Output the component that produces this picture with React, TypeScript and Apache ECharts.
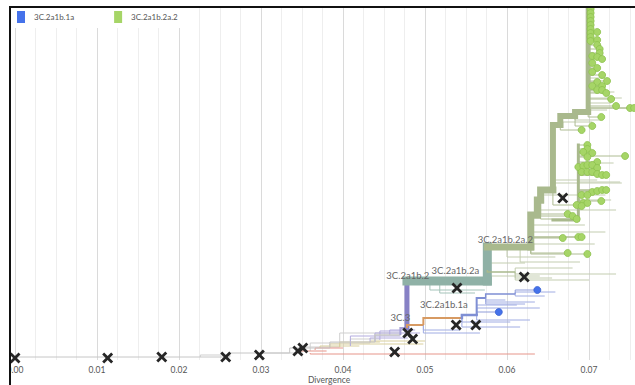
import React, { useEffect, useRef } from 'react';
import * as echarts from 'echarts';

// Divergence axis: ticks every 0.01 from 0
const DIVERGENCE_STEP = 0.01;
const DIVERGENCE_MAX = 0.08;
const LAST_LABELLED = 0.07;
const LAYOUT_MAX = 353;

const LEGEND_CLADES = ['3C.2a1b.1a', '3C.2a1b.2a.2'];

// Internal branches: [parentDivergence, parentY, divergence, y, descendants, clade]
const BRANCHES: any[] = [
  [0, 3, 0.0262, 3, 0, 'base'],
  [0.0262, 3, 0.0335, 7, 0, 'base'],
  [0.0335, 7, 0.0384, 12, 0, 'base'],
  [0.0384, 12, 0.0439, 18, 0, 'base'],
  [0.0439, 18, 0.047, 25, 0.25, 'base'],
  [0.047, 25, 0.0478, 32, 1, 'c3'],
  [0.0478, 32, 0.0478, 79, 16, 'b2'],
  [0.0478, 79, 0.0576, 79, 64, 'b2a'],
  [0.0576, 79, 0.0576, 113, 64, 'b2a'],
  [0.0576, 113, 0.0629, 113, 36, 'b2a2'],
  [0.0629, 113, 0.0637, 145, 36, 'b2a2'],
  [0.0637, 145, 0.0641, 160, 36, 'b2a2'],
  [0.0641, 160, 0.0656, 170, 36, 'b2a2'],
  [0.0656, 170, 0.0665, 235, 25, 'b2a2'],
  [0.0665, 235, 0.0683, 244, 25, 'b2a2'],
  [0.0683, 244, 0.0699, 248, 25, 'b2a2'],
  [0.0699, 248, 0.0699, 360, 16, 'b2a2'],
  [0.0656, 140, 0.0687, 140, 4, 'b2a2'],
  [0.0687, 140, 0.0687, 215, 4, 'b2a2'],
  [0.0576, 90, 0.061, 88, 0.25, 'b2a2'],
  [0.0478, 32, 0.0498, 35, 1, 'orange'],
  [0.0498, 35, 0.0545, 42, 1, 'orange'],
  [0.0545, 42, 0.0563, 45, 2.25, 'b1a'],
  [0.0563, 45, 0.0574, 62, 1, 'b1a'],
  [0.0574, 62, 0.061, 66, 0.25, 'b1a'],
];

// Side branches without highlighted tips: [parentDivergence, parentY, divergence, y, group]
const SIDE_BRANCHES: any[] = [
  [0.0226, 3, 0.0262, 5, 'gray'],
  [0.0299, 5, 0.0348, 7, 'gray'],
  [0.0348, 8, 0.0396, 13, 'gray'],
  [0.036, 9, 0.0433, 17, 'gray'],
  [0.0396, 13, 0.047, 27, 'gray'],
  [0.0409, 14, 0.0445, 21, 'gray'],
  [0.0372, 12, 0.042, 14, 'tan'],
  [0.0384, 12, 0.0498, 16, 'tan'],
  [0.0396, 13, 0.0445, 18, 'tan'],
  [0.0433, 17, 0.05, 19, 'tan'],
  [0.036, 7, 0.0634, 6, 'red'],
  [0.0366, 10, 0.04, 12, 'red'],
  [0.0348, 7, 0.038, 9, 'red'],
  [0.0409, 14, 0.047, 24, 'lav'],
  [0.0433, 18, 0.0479, 22, 'lav'],
  [0.0439, 18, 0.0494, 27, 'lav'],
  [0.0457, 25, 0.0488, 30, 'lav'],
  [0.0445, 20, 0.047, 29, 'lav'],
  [0.0498, 35, 0.0543, 30, 'blue'],
  [0.0498, 35, 0.0567, 27, 'blue'],
  [0.0545, 42, 0.0604, 38, 'blue'],
  [0.0545, 42, 0.0616, 33, 'blue'],
  [0.0563, 45, 0.0628, 40, 'blue'],
  [0.0563, 45, 0.064, 52, 'blue'],
  [0.0563, 45, 0.0612, 55, 'blue'],
  [0.0574, 62, 0.0634, 58, 'blue'],
  [0.0574, 62, 0.0622, 56, 'blue'],
  [0.0574, 62, 0.0598, 60, 'blue'],
  [0.061, 66, 0.0659, 68, 'blue'],
  [0.061, 66, 0.0646, 64, 'blue'],
  [0.0506, 79, 0.0573, 70, 'teal'],
  [0.0518, 79, 0.0561, 67, 'teal'],
  [0.0576, 85, 0.064, 84, 'olive'],
  [0.0576, 95, 0.0622, 97, 'olive'],
  [0.061, 88, 0.068, 92, 'olive'],
  [0.061, 88, 0.0733, 86, 'olive'],
  [0.061, 88, 0.0655, 82, 'olive'],
  [0.061, 88, 0.07, 80, 'olive'],
  [0.06, 113, 0.0659, 103, 'olive'],
  [0.0616, 113, 0.0689, 98, 'olive'],
  [0.0629, 118, 0.0707, 116, 'olive'],
  [0.0629, 128, 0.072, 128, 'olive'],
  [0.0629, 135, 0.0695, 135, 'olive'],
  [0.0637, 148, 0.0733, 150, 'olive'],
  [0.0641, 162, 0.072, 165, 'olive'],
  [0.0656, 175, 0.074, 177, 'olive'],
  [0.0656, 182, 0.071, 180, 'olive'],
  [0.0687, 178, 0.0738, 178, 'olive'],
  [0.0687, 200, 0.073, 197, 'olive'],
  [0.0687, 160, 0.0727, 160, 'olive'],
  [0.0665, 238, 0.0704, 238, 'olive'],
  [0.0683, 244, 0.0713, 240, 'olive'],
  [0.0699, 250, 0.0722, 250, 'olive'],
  [0.0699, 258, 0.0727, 257, 'olive'],
  [0.0699, 262, 0.074, 262, 'olive'],
  [0.0699, 270, 0.0731, 268, 'olive'],
  [0.0699, 280, 0.072, 282, 'olive'],
];

// Tips: [divergence, y, parentDivergence, parentY]
const TIPS_1A: number[][] = [
  [0.0637, 70, 0.061, 66],
  [0.059, 48, 0.0563, 45],
];

const TIPS_2A2: number[][] = [
  [0.0702, 351, 0.0699, 351], [0.0702, 347, 0.0699, 347], [0.0702, 343, 0.0699, 343],
  [0.0702, 339, 0.0699, 339], [0.0702, 335, 0.0699, 335], [0.0702, 331, 0.0699, 331],
  [0.0702, 327, 0.0699, 327], [0.0702, 323, 0.0699, 323], [0.0702, 319, 0.0699, 319],
  [0.071, 328, 0.0699, 328], [0.071, 320, 0.0699, 320], [0.071, 315, 0.0699, 315],
  [0.0713, 311, 0.0699, 311], [0.0713, 307, 0.0699, 307], [0.0704, 304, 0.0699, 304],
  [0.071, 303, 0.0699, 303], [0.0716, 301, 0.0699, 301], [0.0704, 297, 0.0699, 297],
  [0.071, 292, 0.0699, 292], [0.0704, 288, 0.0699, 288], [0.0716, 285, 0.0699, 285],
  [0.0722, 279, 0.0699, 279], [0.071, 278, 0.0699, 278], [0.0716, 274, 0.0699, 274],
  [0.0704, 274, 0.0699, 274], [0.071, 270, 0.0699, 270], [0.0716, 270, 0.0699, 270],
  [0.0721, 267, 0.0699, 267], [0.0727, 261, 0.0699, 261], [0.0733, 254, 0.0699, 254],
  [0.075, 252, 0.0699, 252], [0.0755, 252, 0.0699, 252], [0.0715, 243, 0.0699, 248],
  [0.0704, 234, 0.0683, 244], [0.0691, 230, 0.0665, 235],
  [0.0698, 215, 0.0687, 215], [0.0698, 211, 0.0687, 211], [0.0693, 208, 0.0687, 208],
  [0.0704, 207, 0.0687, 207], [0.0744, 204, 0.0687, 204], [0.0698, 203, 0.0687, 203],
  [0.071, 198, 0.0687, 198], [0.0687, 193, 0.0687, 193], [0.0693, 194, 0.0687, 194],
  [0.0698, 195, 0.0687, 195], [0.0704, 195, 0.0687, 195], [0.071, 192, 0.0687, 192],
  [0.0691, 188, 0.0687, 188], [0.0698, 188, 0.0687, 188], [0.0704, 188, 0.0687, 188],
  [0.071, 186, 0.0687, 186], [0.0716, 185, 0.0687, 185], [0.0721, 185, 0.0687, 185],
  [0.0704, 168, 0.0687, 168], [0.071, 169, 0.0687, 169], [0.0716, 170, 0.0687, 170],
  [0.0721, 170, 0.0687, 170], [0.0691, 165, 0.0687, 165], [0.0698, 165, 0.0687, 165],
  [0.0693, 157, 0.0687, 157], [0.0698, 157, 0.0687, 157], [0.0715, 159, 0.0687, 159],
  [0.0685, 155, 0.0656, 170], [0.0691, 154, 0.0687, 154],
  [0.0674, 146, 0.0641, 160], [0.068, 144, 0.0641, 160], [0.0685, 141, 0.0641, 160],
  [0.0668, 122, 0.0629, 122], [0.0687, 123, 0.0629, 123], [0.0691, 123, 0.0629, 123],
  [0.0674, 107, 0.0629, 113], [0.0698, 106, 0.0629, 113],
];

// Vaccine strains: [divergence, y]
const VACCINES: number[][] = [
  [0, 2], [0.0113, 2], [0.0179, 3], [0.0257, 3], [0.0298, 5], [0.0345, 9], [0.0351, 12],
  [0.0463, 8], [0.0479, 27], [0.0485, 21], [0.0539, 72], [0.0538, 35], [0.0562, 35],
  [0.0621, 83], [0.0668, 162],
];

const CLADE_LABEL_TEXT = ['3C.3', '3C.2a1b.2', '3C.2a1b.2a', '3C.2a1b.1a', '3C.2a1b.2a.2'];
const CLADE_LABEL_POS: number[][] = [
  [0.047, 43], [0.0479, 84.5], [0.0537, 90], [0.0523, 56], [0.0598, 121],
];

const BRANCH_COLORS: Record<string, string> = {
  base: '#c6c6c6',
  c3: '#a59fd4',
  b2: '#8781c5',
  b2a: '#8fb1a6',
  b2a2: '#a9b98d',
  b1a: '#7f8fd4',
  orange: '#d79a62',
};
const SIDE_COLORS: Record<string, string> = {
  gray: '#cfcfcf',
  tan: '#d9cf9c',
  red: '#e6958a',
  lav: '#b3acdf',
  blue: '#a0ace3',
  teal: '#a4c3b9',
  olive: '#c3cdb0',
};

const FONT = 'Lato, "Open Sans", sans-serif';

function elbow(api: any, x0: number, y0: number, x1: number, y1: number) {
  const pts = [api.coord([x0, y0]), api.coord([x0, y1]), api.coord([x1, y1])];
  const out = [pts[0]];
  for (let i = 1; i < pts.length; i++) {
    const p = pts[i];
    const q = out[out.length - 1];
    if (Math.abs(p[0] - q[0]) > 0.01 || Math.abs(p[1] - q[1]) > 0.01) out.push(p);
  }
  if (out.length === 1) out.push([pts[0][0] + 0.01, pts[0][1]]);
  return out;
}

function buildOption() {
  const sideSeries = {
    type: 'custom',
    clip: true,
    silent: true,
    encode: { x: [0, 2], y: [1, 3] },
    data: SIDE_BRANCHES.map((r) => r.slice(0, 4)),
    renderItem: (params: any, api: any) => {
      const r = SIDE_BRANCHES[params.dataIndex];
      return {
        type: 'polyline',
        shape: { points: elbow(api, r[0], r[1], r[2], r[3]) },
        style: { stroke: SIDE_COLORS[r[4]], lineWidth: 1, fill: null },
      };
    },
  };

  const tipLines = (rows: number[][], color: string) => ({
    type: 'custom',
    clip: true,
    silent: true,
    encode: { x: [0, 2], y: [1, 3] },
    data: rows,
    renderItem: (params: any, api: any) => {
      const r = rows[params.dataIndex];
      return {
        type: 'polyline',
        shape: { points: elbow(api, r[2], r[3], r[0], r[1]) },
        style: { stroke: color, lineWidth: 1, fill: null },
      };
    },
  });

  const branchSeries = {
    type: 'custom',
    clip: true,
    silent: true,
    encode: { x: [0, 2], y: [1, 3] },
    data: BRANCHES.map((r) => r.slice(0, 5)),
    renderItem: (params: any, api: any) => {
      const r = BRANCHES[params.dataIndex];
      const w = 1 + Math.sqrt(r[4]);
      return {
        type: 'polyline',
        shape: { points: elbow(api, r[0], r[1], r[2], r[3]) },
        style: {
          stroke: BRANCH_COLORS[r[5]],
          lineWidth: w,
          fill: null,
          lineCap: w > 2 ? 'square' : 'butt',
          lineJoin: 'miter',
        },
      };
    },
  };

  return {
    animation: false,
    backgroundColor: '#fff',
    grid: { left: 15, right: -36, top: 7, bottom: 25, containLabel: false, outerBoundsMode: 'none' },
    legend: {
      data: LEGEND_CLADES,
      left: 10,
      top: 8,
      padding: [3, 8, 5, 7],
      backgroundColor: '#fff',
      icon: 'rect',
      itemWidth: 8,
      itemHeight: 12,
      itemGap: 40,
      selectedMode: false,
      itemStyle: { borderWidth: 0, opacity: 1 },
      textStyle: { fontSize: 8, color: '#555', fontFamily: FONT, padding: [0, 0, 0, 4] },
    },
    xAxis: {
      type: 'value',
      min: 0,
      max: DIVERGENCE_MAX,
      interval: DIVERGENCE_STEP,
      axisLine: { show: false },
      axisTick: { show: false },
      axisLabel: {
        fontSize: 8.5,
        color: '#555',
        fontFamily: FONT,
        margin: 5,
        showMaxLabel: false,
        formatter: (v: number) => (v > LAST_LABELLED + 1e-9 ? '' : v.toFixed(2)),
      },
      splitLine: { show: true, lineStyle: { color: '#dadada', width: 1 } },
      minorTick: { show: false, splitNumber: 4 },
      minorSplitLine: { show: true, lineStyle: { color: '#eeeeee', width: 1 } },
    },
    yAxis: {
      type: 'value',
      min: 0,
      max: LAYOUT_MAX,
      show: false,
      splitLine: { show: false },
    },
    graphic: [
      { type: 'rect', shape: { x: 0, y: 0, width: 9, height: 385 }, style: { fill: '#fff' }, z: 100 },
      { type: 'rect', shape: { x: 0, y: 0, width: 635, height: 6 }, style: { fill: '#fff' }, z: 100 },
      { type: 'line', shape: { x1: 10, y1: 6, x2: 10, y2: 385 }, style: { stroke: '#111', lineWidth: 2 }, z: 101 },
      { type: 'line', shape: { x1: 9, y1: 7, x2: 635, y2: 7 }, style: { stroke: '#111', lineWidth: 2 }, z: 101 },
      {
        type: 'text',
        x: 329,
        y: 380,
        z: 101,
        style: {
          text: 'Divergence',
          fill: '#555',
          fontSize: 8.5,
          fontFamily: FONT,
          align: 'center',
          verticalAlign: 'middle',
        },
      },
    ],
    series: [
      sideSeries,
      tipLines(TIPS_2A2, '#aebc92'),
      tipLines(TIPS_1A, '#8f9cd9'),
      branchSeries,
      {
        name: '3C.2a1b.2a.2',
        type: 'scatter',
        data: TIPS_2A2,
        encode: { x: 0, y: 1 },
        symbolSize: 7,
        itemStyle: { color: '#a6d567', borderColor: '#8dc24c', borderWidth: 0.8, opacity: 1 },
        silent: true,
      },
      {
        name: '3C.2a1b.1a',
        type: 'scatter',
        data: TIPS_1A,
        encode: { x: 0, y: 1 },
        symbolSize: 7,
        itemStyle: { color: '#4572ea', borderColor: '#3a62d0', borderWidth: 0.8, opacity: 1 },
        silent: true,
      },
      {
        name: 'vaccines',
        type: 'scatter',
        data: VACCINES,
        symbol:
          'path://M0,1.8 L1.8,0 L5,3.2 L8.2,0 L10,1.8 L6.8,5 L10,8.2 L8.2,10 L5,6.8 L1.8,10 L0,8.2 L3.2,5 Z',
        symbolSize: 11,
        itemStyle: { color: '#262626', opacity: 1 },
        silent: true,
        clip: false,
      },
      {
        type: 'custom',
        silent: true,
        encode: { x: 0, y: 1 },
        data: CLADE_LABEL_POS,
        renderItem: (params: any, api: any) => {
          const p = api.coord([api.value(0), api.value(1)]);
          return {
            type: 'text',
            x: p[0],
            y: p[1],
            style: {
              text: CLADE_LABEL_TEXT[params.dataIndex],
              fill: '#666',
              fontSize: 9.5,
              fontFamily: FONT,
              align: 'center',
              verticalAlign: 'middle',
            },
          };
        },
      },
    ],
  };
}

export default function App() {
  const ref = useRef<HTMLDivElement>(null);
  useEffect(() => {
    const chart = echarts.init(ref.current as HTMLDivElement, null, { renderer: 'svg' });
    chart.setOption(buildOption() as any);
    return () => chart.dispose();
  }, []);
  return (
    <div
      ref={ref}
      style={{ position: 'fixed', left: 0, top: 0, width: 635, height: 385, background: '#fff' }}
    />
  );
}
